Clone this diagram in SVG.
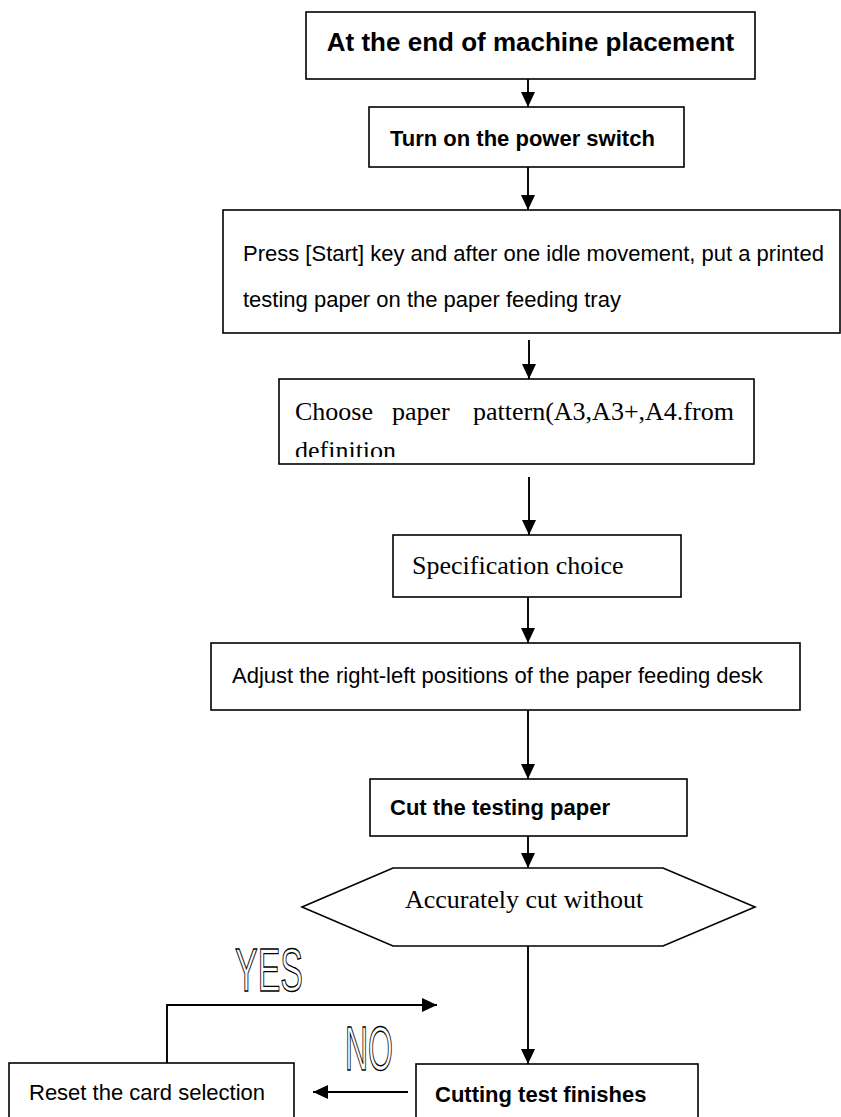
<svg xmlns="http://www.w3.org/2000/svg" width="841" height="1117" viewBox="0 0 841 1117">
<style>
.box{fill:#fff;stroke:#000;stroke-width:1.6}
.cn{fill:none;stroke:#000;stroke-width:1.9}
.b{font-family:"Liberation Sans",Arial,sans-serif;font-weight:bold;fill:#000}
.r{font-family:"Liberation Sans",Arial,sans-serif;font-size:22px;fill:#000}
.s{font-family:"Liberation Serif","Times New Roman",serif;font-size:26px;fill:#000}
.o{font-family:"Liberation Sans",Arial,sans-serif;fill:#fff;stroke:#000;stroke-width:1.4}
</style>
<defs>
<marker id="ah" markerUnits="userSpaceOnUse" markerWidth="15" markerHeight="14" refX="15" refY="7" orient="auto">
<path d="M0,0 L15,7 L0,14 z" fill="#000"/>
</marker>
<clipPath id="c4"><rect x="279" y="379" width="475" height="78"/></clipPath>
</defs>
<rect width="841" height="1117" fill="#fff"/>
<g id="connectors">
<line class="cn" x1="528" y1="79" x2="528" y2="107" marker-end="url(#ah)"/>
<line class="cn" x1="528" y1="167" x2="528" y2="210" marker-end="url(#ah)"/>
<line class="cn" x1="529" y1="340" x2="529" y2="379" marker-end="url(#ah)"/>
<line class="cn" x1="529" y1="477" x2="529" y2="535" marker-end="url(#ah)"/>
<line class="cn" x1="528" y1="597" x2="528" y2="643" marker-end="url(#ah)"/>
<line class="cn" x1="528" y1="710" x2="528" y2="779" marker-end="url(#ah)"/>
<line class="cn" x1="528" y1="836" x2="528" y2="868" marker-end="url(#ah)"/>
<line class="cn" x1="528" y1="946" x2="528" y2="1064" marker-end="url(#ah)"/>
<polyline class="cn" points="167,1063 167,1005 437,1005" marker-end="url(#ah)"/>
<line class="cn" x1="408" y1="1092" x2="313" y2="1092" marker-end="url(#ah)"/>
<text class="o" x="235" y="991" font-size="61" textLength="68" lengthAdjust="spacingAndGlyphs">YES</text>
<text class="o" x="345" y="1070" font-size="63" textLength="48" lengthAdjust="spacingAndGlyphs">NO</text>
</g>
<g id="n1">
<rect class="box" x="306" y="12" width="449" height="67"/>
<text class="b" x="530.5" y="51" font-size="26" text-anchor="middle">At the end of machine placement</text>
</g>
<g id="n2">
<rect class="box" x="369" y="107" width="315" height="60"/>
<text class="b" x="390" y="146" font-size="22">Turn on the power switch</text>
</g>
<g id="n3">
<rect class="box" x="223" y="210" width="617" height="123"/>
<text class="r" x="243" y="261">Press [Start] key and after one idle movement, put a printed</text>
<text class="r" x="243" y="307">testing paper on the paper feeding tray</text>
</g>
<g id="n4">
<rect class="box" x="279" y="379" width="475" height="85"/>
<text class="s" y="420"><tspan x="295">Choose</tspan><tspan x="392">paper</tspan><tspan x="473">pattern(A3,A3+,A4.from</tspan></text>
<text class="s" x="295" y="459" clip-path="url(#c4)">definition</text>
</g>
<g id="n5">
<rect class="box" x="393" y="535" width="288" height="62"/>
<text class="s" x="412" y="574">Specification choice</text>
</g>
<g id="n6">
<rect class="box" x="211" y="643" width="589" height="67"/>
<text class="r" x="232" y="683">Adjust the right-left positions of the paper feeding desk</text>
</g>
<g id="n7">
<rect class="box" x="370" y="779" width="317" height="57"/>
<text class="b" x="390" y="815" font-size="22">Cut the testing paper</text>
</g>
<g id="n8">
<polygon class="box" points="302,907 393,868 663,868 755,907 663,946 393,946"/>
<text class="s" x="405" y="908">Accurately cut without</text>
</g>
<g id="n9">
<rect class="box" x="416" y="1064" width="282" height="70"/>
<text class="b" x="435" y="1102" font-size="22">Cutting test finishes</text>
</g>
<g id="n10">
<rect class="box" x="9" y="1063" width="285" height="70"/>
<text class="r" x="29" y="1100">Reset the card selection</text>
</g>
</svg>
